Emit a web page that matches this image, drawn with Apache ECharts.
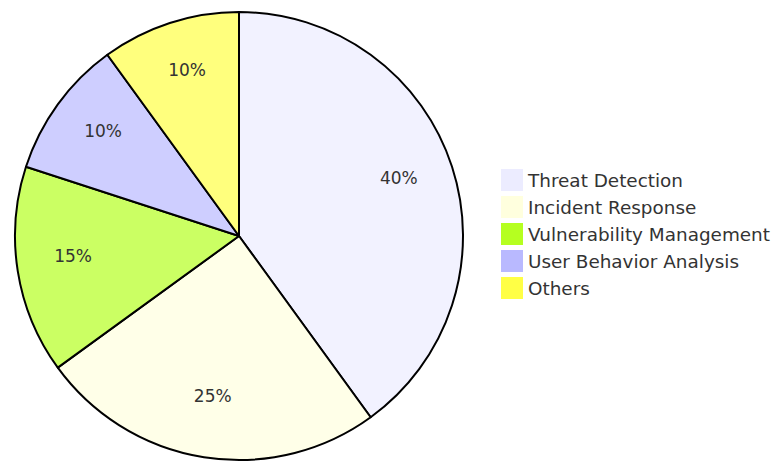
<!DOCTYPE html>
<html>
<head>
<meta charset="utf-8">
<script src="https://cdn.jsdelivr.net/npm/echarts@6/dist/echarts.min.js"></script>
<style>
html,body{margin:0;padding:0;background:#fff;}
#chart{width:772px;height:463px;}
</style>
</head>
<body>
<div id="chart"></div>
<script>
const categories = ["Threat Detection", "Incident Response", "Vulnerability Management", "User Behavior Analysis", "Others"];
const values = [40, 25, 15, 10, 10];
const legendColors = ["#ECECFF", "#FFFFDE", "#B5FF20", "#B9B9FF", "#FFFF45"];
const sliceColors = ["#F2F2FF", "#FFFFE8", "#CBFF63", "#CECEFF", "#FFFF7D"];

const chart = echarts.init(document.getElementById('chart'), null, {renderer: 'svg'});
const font = "DejaVu Sans";
chart.setOption({
  animation: false,
  backgroundColor: '#fff',
  legend: {
    orient: 'vertical',
    left: 501,
    top: 169,
    padding: 0,
    icon: 'rect',
    itemWidth: 22,
    itemHeight: 22,
    itemGap: 5,
    selectedMode: false,
    textStyle: {fontFamily: font, fontSize: 18.4, color: '#333'},
    data: categories.map((n, i) => ({name: n, itemStyle: {color: legendColors[i], borderWidth: 0}}))
  },
  series: [
    {
      type: 'pie',
      center: [239, 236],
      radius: [0, 224],
      startAngle: 90,
      clockwise: true,
      silent: true,
      label: {show: false},
      labelLine: {show: false},
      itemStyle: {borderColor: '#000', borderWidth: 2},
      data: categories.map((n, i) => ({name: n, value: values[i], itemStyle: {color: sliceColors[i]}}))
    },
    {
      type: 'pie',
      center: [239, 236],
      radius: [106, 224],
      startAngle: 90,
      clockwise: true,
      silent: true,
      z: 5,
      itemStyle: {color: 'rgba(0,0,0,0)', borderWidth: 0},
      label: {show: true, position: 'inside', formatter: '{d}%\n ', lineHeight: 12, fontFamily: font, fontSize: 17, color: '#333'},
      labelLine: {show: false},
      data: categories.map((n, i) => ({name: n, value: values[i]}))
    }
  ]
});
</script>
</body>
</html>
